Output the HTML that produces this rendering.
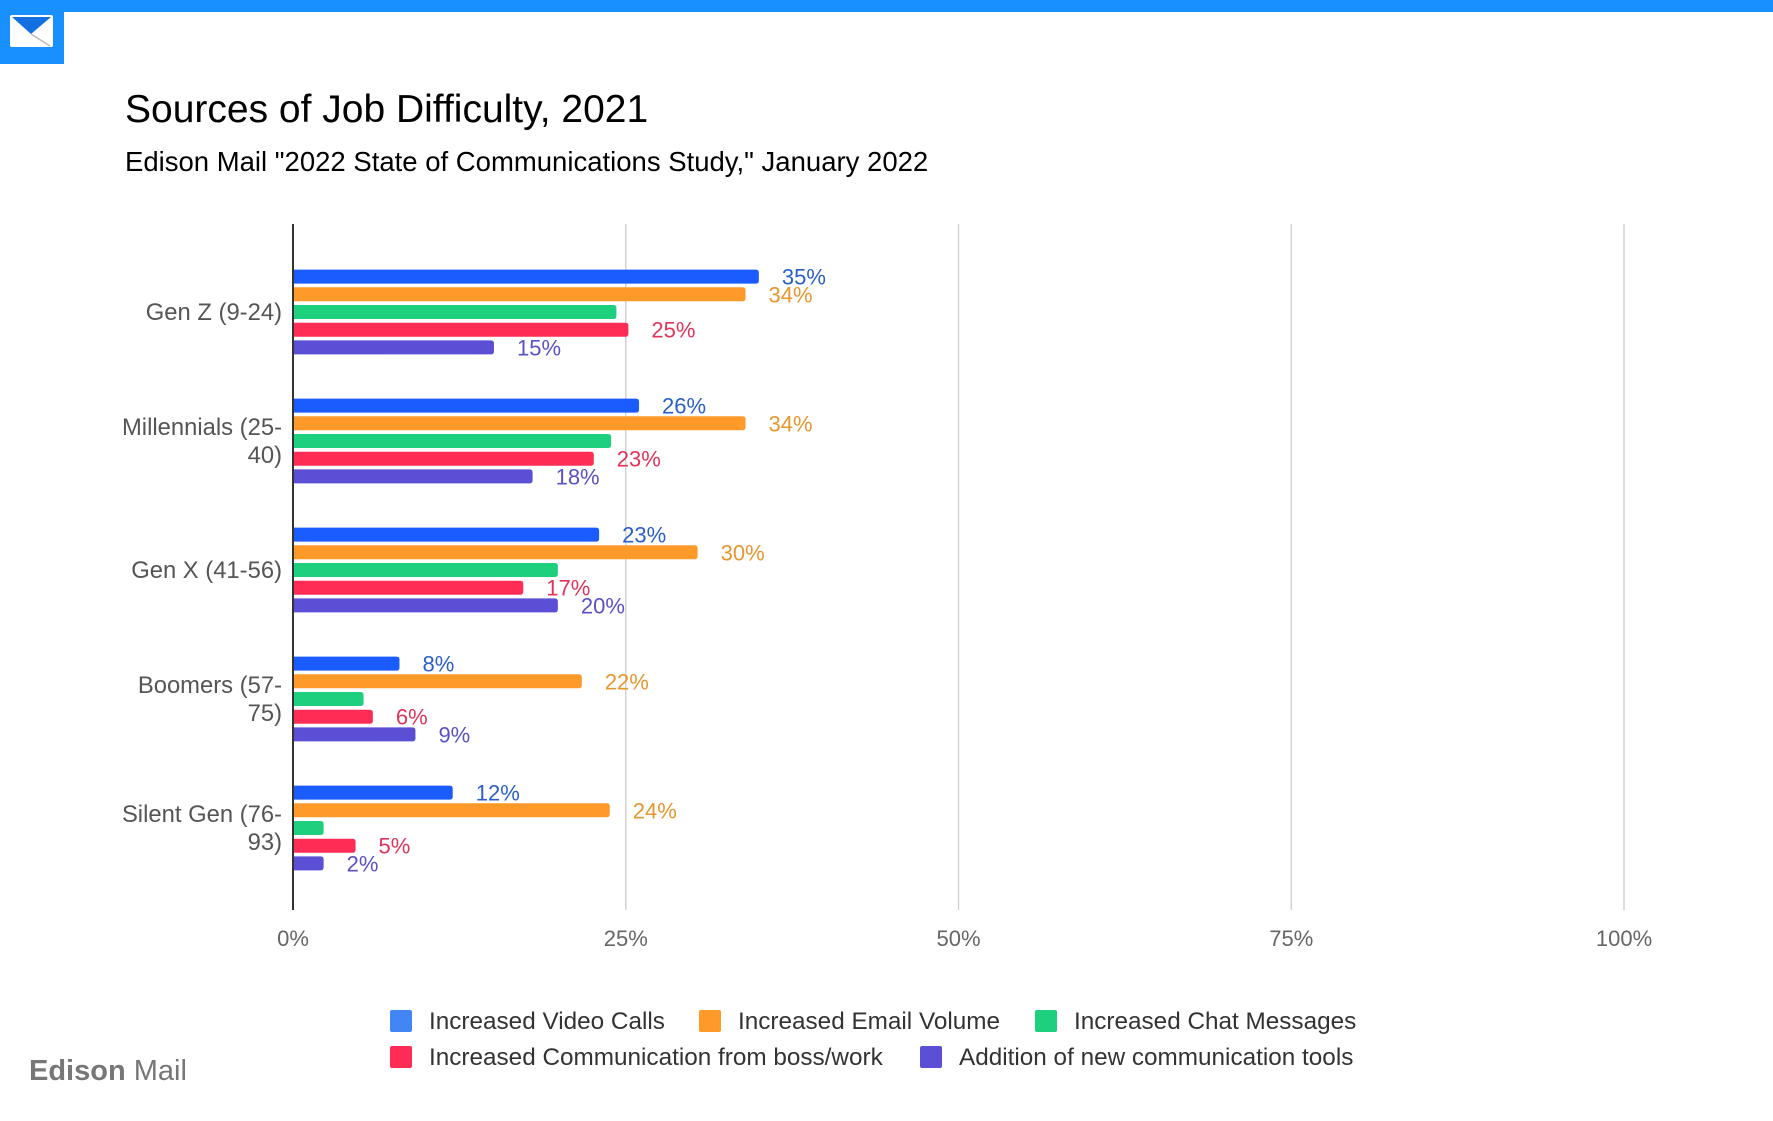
<!DOCTYPE html>
<html><head><meta charset="utf-8">
<style>
body{margin:0;background:#fff;width:1773px;height:1116px;overflow:hidden;font-family:"Liberation Sans",sans-serif;}
svg text{font-family:"Liberation Sans",sans-serif;}
</style></head>
<body>
<svg width="1773" height="1116">
<rect x="0" y="0" width="1773" height="12" fill="#1890ff"/>
<g>
<rect x="0" y="0" width="64" height="64" fill="#1890ff"/>
<rect x="10" y="15" width="43" height="32" rx="2" fill="#fff"/>
<path d="M12 17 L51 17 L31 34 Z" fill="#1270e0"/>
<path d="M31 34 L50 46" stroke="#bbb" stroke-width="1.5"/>
</g>
<text x="125" y="122" font-size="39" fill="#000">Sources of Job Difficulty, 2021</text>
<text x="125" y="171" font-size="27.5" fill="#000">Edison Mail "2022 State of Communications Study," January 2022</text>
<g id="plot"></g>
<g font-size="24.3" fill="#333">
<rect x="390" y="1010" width="22" height="22" rx="2" fill="#4285f4"/>
<text x="429" y="1029">Increased Video Calls</text>
<rect x="699" y="1010" width="22" height="22" rx="2" fill="#ff9a2a"/>
<text x="738" y="1029">Increased Email Volume</text>
<rect x="1035" y="1010" width="22" height="22" rx="2" fill="#1ecf7e"/>
<text x="1074" y="1029">Increased Chat Messages</text>
<rect x="390" y="1046" width="22" height="22" rx="2" fill="#ff2d55"/>
<text x="429" y="1065">Increased Communication from boss/work</text>
<rect x="920" y="1046" width="22" height="22" rx="2" fill="#5b4fd6"/>
<text x="959" y="1065">Addition of new communication tools</text>
</g>
<text x="29" y="1080" font-size="29" fill="#777"><tspan font-weight="bold">Edison</tspan> Mail</text>
</svg>
<script>
const categories=["Gen Z (9-24)","Millennials (25-|40)","Gen X (41-56)","Boomers (57-|75)","Silent Gen (76-|93)"];
const videoCalls=[35,26,23,8,12];
const emailVolume=[34,34,30.4,21.7,23.8];
const chatMessages=[24.3,23.9,19.9,5.3,2.3];
const bossWork=[25.2,22.6,17.3,6,4.7];
const newTools=[15.1,18,19.9,9.2,2.3];
const showLabel=[true,true,false,true,true];
const xTicks=[0,25,50,75,100];
const seriesNames=["video","email","chat","boss","tools"];
const series=[videoCalls,emailVolume,chatMessages,bossWork,newTools];
const colors=["#1a5cff","#ff9a2a","#1ecf7e","#ff2d55","#5b4fd6"];
const labelColors=["#2a5fc9","#e8962e","#1ecf7e","#e0345a","#5a50c8"];
const NS="http://www.w3.org/2000/svg";
const g=document.getElementById('plot');
const x0=293,x100=1624,top0=224,bot=910;
function xs(v){return x0+(x100-x0)*v/100;}
function groupCenter(i){return 312+i*129;}
function mk(t,a){const e=document.createElementNS(NS,t);for(const k in a)e.setAttribute(k,a[k]);g.appendChild(e);return e;}
xTicks.forEach(t=>{
  if(t>0){const l=mk('line',{x1:xs(t),x2:xs(t),y1:top0,y2:bot,stroke:'#ccc','stroke-width':1.3});
  
  }
  const tx=mk('text',{x:xs(t),y:946,'font-size':22,fill:'#666','text-anchor':'middle'});
  tx.textContent=t+'%';
  
  
});
categories.forEach((c,i)=>{
  const cy=groupCenter(i);
  series.forEach((s,j)=>{
    const y=cy+(j-2)*17.7-7;
    const w=xs(s[i])-x0;
    const r=mk('path',{d:`M${x0} ${y} H${x0+w-3} Q${x0+w} ${y} ${x0+w} ${y+3} V${y+11} Q${x0+w} ${y+14} ${x0+w-3} ${y+14} H${x0} Z`,fill:colors[j]});
    
    
    if(showLabel[j]){
      const t=mk('text',{x:xs(s[i])+23,y:y+15,'font-size':22,fill:labelColors[j]});
      t.textContent=Math.round(s[i])+'%';
      
      
    }
  });
  const lines=c.split('|');
  lines.forEach((ln,k)=>{
    const t=mk('text',{x:282,y:cy+8+(k-(lines.length-1)/2)*28,'font-size':23.8,fill:'#555','text-anchor':'end'});
    t.textContent=ln;
    
    
  });
});
const ax=mk('line',{x1:x0,x2:x0,y1:top0,y2:bot,stroke:'#333','stroke-width':2});


</script>
</body></html>
